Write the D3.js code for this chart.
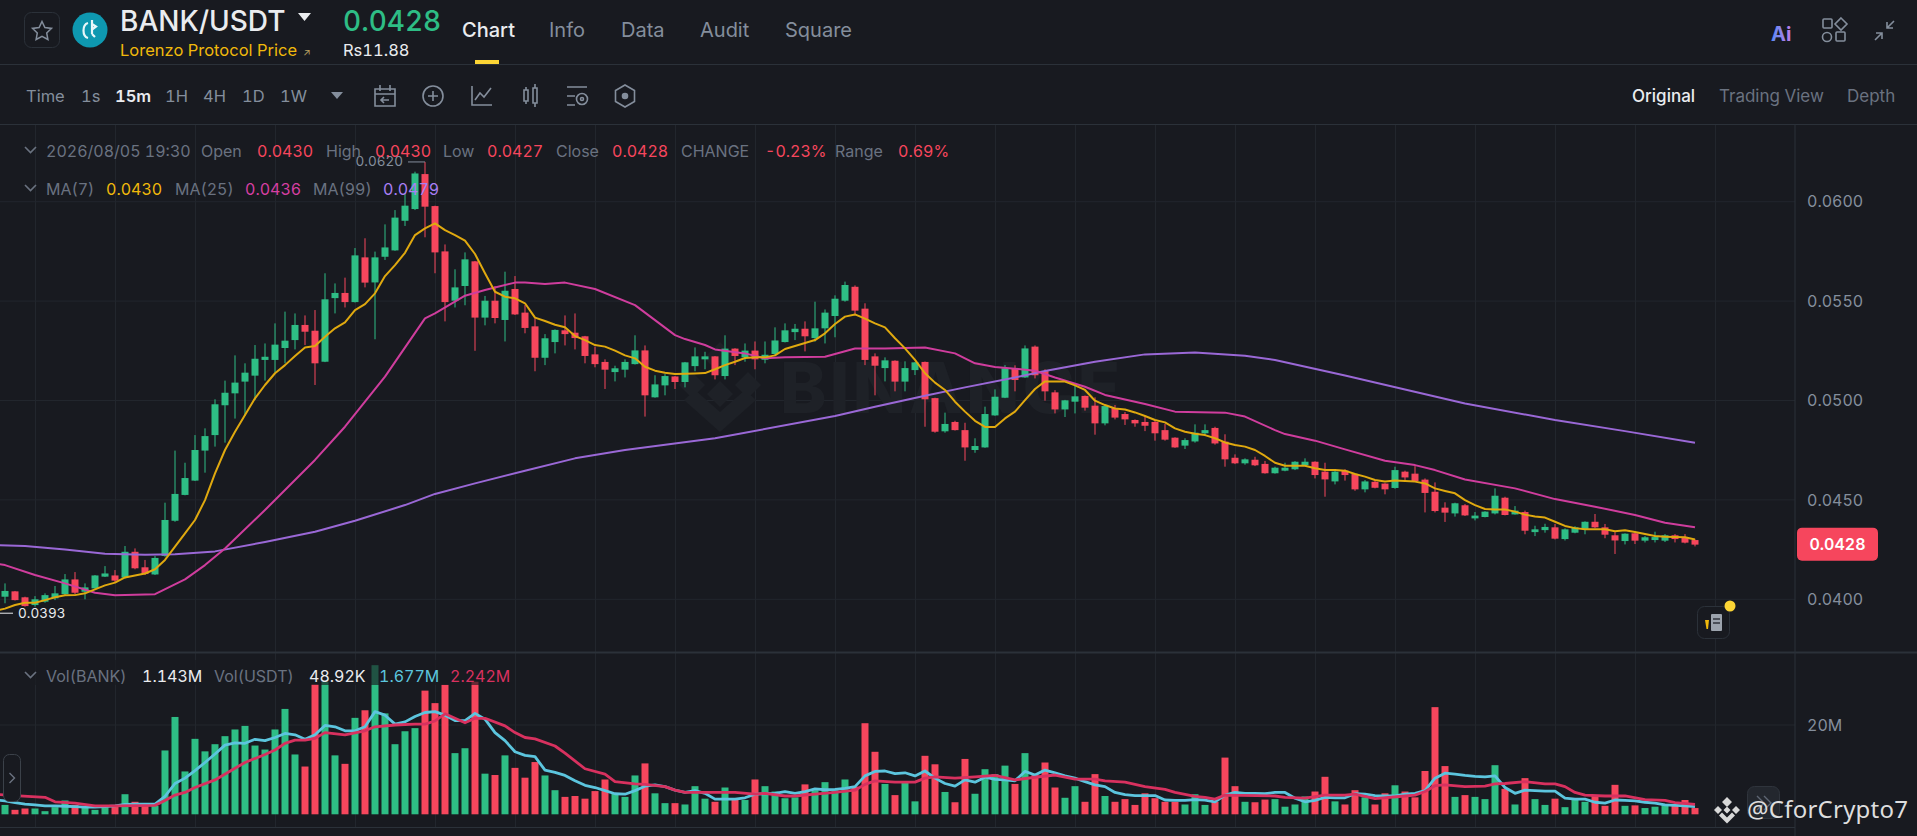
<!DOCTYPE html>
<html>
<head>
<meta charset="utf-8">
<title>BANK/USDT</title>
<script src="https://cdn.jsdelivr.net/npm/d3@7"></script>
<style>
  html, body { margin: 0; padding: 0; background: #181a20; overflow: hidden; }
  text { font-family: Inter, "Noto Sans", sans-serif; font-variant-numeric: tabular-nums; }
</style>
</head>
<body>
<div id="chart"></div>
<script>
// prices are in 1/100000 USDT, volumes in millions
const opens = [4013,4040,4010,3971,3988,4005,4026,4100,4038,4055,
4114,4120,4109,4239,4161,4125,4218,4395,4525,4597,
4748,4826,4976,5036,5095,5125,5204,5204,5264,5304,
5380,5351,5195,5515,5541,5495,5720,5594,5723,5755,
5904,5963,6139,5978,5750,5502,5576,5700,5417,5502,
5405,5561,5442,5373,5215,5294,5353,5341,5323,5232,
5194,5143,5155,5183,5252,5016,5076,5121,5093,5173,
5207,5222,5123,5261,5217,5251,5205,5234,5294,5344,
5361,5314,5363,5425,5502,5572,5462,5222,5163,5200,
5095,5153,5194,5012,4845,4892,4851,4751,4764,4925,
5014,5160,5116,5271,5148,5041,4955,4994,5023,4974,
4885,4962,4932,4902,4892,4892,4851,4813,4773,4794,
4835,4862,4793,4712,4684,4702,4681,4634,4647,4654,
4675,4692,4642,4593,4647,4630,4553,4591,4582,4560,
4642,4632,4602,4541,4461,4432,4473,4407,4414,4432,
4511,4427,4439,4338,4348,4362,4303,4335,4353,4390,
4362,4322,4293,4332,4295,4298,4295,4322,4312,4298];
const closes = [4042,3996,3966,4000,4021,4030,4100,4033,4060,4120,
4130,4094,4239,4156,4127,4208,4399,4530,4610,4751,
4821,4981,5039,5090,5140,5210,5220,5281,5301,5380,
5346,5187,5509,5541,5495,5730,5593,5720,5770,5920,
5980,6142,5975,5745,5495,5569,5710,5417,5502,5415,
5552,5433,5365,5215,5313,5355,5334,5314,5224,5183,
5155,5162,5194,5252,5026,5081,5123,5093,5192,5222,
5222,5127,5261,5224,5251,5207,5230,5302,5353,5361,
5323,5363,5442,5512,5581,5452,5204,5175,5202,5095,
5163,5192,5006,4843,4882,4851,4764,4771,4932,5019,
5162,5103,5262,5127,5046,4955,5001,5021,4964,4885,
4972,4914,4905,4885,4873,4835,4803,4764,4801,4838,
4851,4784,4704,4684,4704,4674,4634,4662,4662,4692,
4692,4625,4603,4642,4625,4553,4593,4561,4553,4650,
4613,4595,4535,4444,4436,4483,4422,4421,4441,4521,
4424,4446,4345,4352,4364,4305,4352,4362,4390,4362,
4325,4296,4330,4295,4312,4313,4322,4303,4285,4275];
const highs = [4080,4042,4013,4016,4030,4067,4127,4137,4080,4122,
4167,4147,4268,4256,4198,4218,4486,4748,4687,4826,
4860,5006,5100,5227,5187,5279,5287,5388,5447,5438,
5428,5455,5640,5589,5618,5767,5816,5749,5886,5958,
6042,6151,6200,5980,5785,5660,5745,5702,5526,5576,
5648,5626,5480,5413,5334,5358,5428,5438,5325,5271,
5207,5175,5207,5328,5277,5127,5133,5123,5194,5267,
5245,5224,5328,5263,5287,5297,5297,5368,5388,5385,
5398,5497,5458,5529,5598,5579,5489,5237,5217,5202,
5197,5194,5196,5014,4939,4898,4888,4810,4969,5056,
5178,5177,5277,5277,5157,5052,5003,5073,5025,5016,
4974,4977,4942,4905,4919,4902,4882,4815,4810,4880,
4880,4868,4830,4729,4709,4717,4696,4667,4687,4695,
4709,4694,4687,4650,4654,4634,4600,4595,4584,4667,
4647,4670,4608,4588,4488,4486,4479,4439,4443,4558,
4516,4469,4446,4370,4380,4379,4357,4368,4392,4429,
4379,4338,4332,4334,4318,4340,4328,4328,4328,4302];
const lows = [3980,3994,3963,3963,3983,3996,4021,4026,4000,4053,
4112,4087,4105,4151,4122,4122,4214,4390,4523,4595,
4637,4768,4788,4909,4922,5002,5100,5140,5187,5257,
5279,5078,5193,5438,5468,5493,5569,5308,5707,5753,
5878,5958,5821,5640,5398,5468,5479,5250,5378,5388,
5297,5430,5338,5147,5178,5237,5277,5257,5187,5167,
5058,5096,5116,5181,4919,5014,5026,5058,5066,5147,
5157,5106,5106,5178,5195,5157,5187,5224,5292,5304,
5247,5296,5287,5318,5497,5432,5178,5026,5096,5046,
5046,5128,4868,4838,4838,4849,4697,4737,4762,4923,
5012,5046,5114,5111,4999,4935,4917,4935,4949,4828,
4875,4905,4877,4868,4846,4798,4798,4762,4756,4788,
4821,4778,4667,4680,4677,4670,4632,4632,4644,4650,
4672,4608,4516,4578,4597,4546,4538,4558,4528,4556,
4590,4593,4437,4437,4389,4416,4419,4397,4412,4427,
4422,4426,4327,4318,4335,4301,4296,4332,4327,4357,
4307,4228,4276,4278,4286,4286,4288,4286,4281,4266];
// MA7 and the fast volume line start one slot left of the first candle
const ma7 = [3941,3953,3971,3983,3983,3996,4010,4020,4021,4030,4050,
4070,4084,4110,4120,4130,4151,4198,4265,4332,4399,
4499,4633,4751,4843,4927,5011,5078,5137,5178,5224,
5267,5274,5321,5363,5393,5455,5485,5539,5626,5681,
5743,5832,5866,5891,5857,5832,5804,5737,5640,5547,
5522,5514,5489,5417,5400,5381,5368,5324,5304,5279,
5271,5251,5227,5212,5170,5150,5140,5133,5135,5136,
5138,5157,5178,5195,5214,5217,5217,5227,5259,5274,
5289,5304,5338,5385,5422,5433,5412,5388,5368,5313,
5262,5204,5137,5090,5053,4994,4944,4898,4867,4867,
4910,4944,5002,5058,5096,5096,5095,5076,5053,4999,
4977,4960,4955,4940,4922,4902,4890,4860,4843,4833,
4826,4810,4789,4776,4768,4751,4721,4687,4672,4672,
4672,4659,4650,4650,4647,4630,4617,4600,4593,4597,
4595,4592,4583,4558,4545,4533,4499,4474,4454,4452,
4452,4441,4426,4416,4411,4390,4369,4358,4352,4352,
4352,4342,4347,4338,4328,4318,4315,4313,4312,4301];
const ma25Index = [-1,0,3,6,9,11,15,18,20,22,26,31,34,38,42,43,46,48,51,52,54,56,59,63,67,68,70,71,74,76,78,82,85,88,92,95,97,99,101,103,105,108,110,114,117,122,124,127,128,131,134,138,141,143,146,151,155,159,163,166,169];
const ma25 = [4181,4172,4122,4080,4033,4020,4026,4100,4172,4256,4449,4701,4868,5120,5413,5438,5527,5556,5593,5593,5586,5593,5561,5480,5329,5309,5279,5257,5237,5212,5217,5220,5262,5262,5267,5237,5187,5168,5160,5150,5116,5069,5028,4982,4944,4939,4919,4851,4831,4798,4754,4697,4675,4650,4603,4558,4504,4466,4424,4385,4362];
const ma99Index = [-1,2,6,10,14,17,21,26,31,35,40,43,47,52,57,62,71,83,87,92,96,101,104,109,114,119,124,127,134,146,155,162,169];
const ma99 = [4273,4268,4251,4229,4224,4226,4241,4288,4340,4395,4474,4530,4583,4647,4709,4751,4810,4922,4969,5024,5066,5116,5148,5195,5232,5241,5225,5204,5126,4985,4902,4846,4788];
const volumes = [2.1,1.0,1.3,1.3,0.7,1.6,3.1,2.1,1.7,1.0,
1.6,1.7,4.5,2.8,2.3,1.9,14.3,21.8,9.6,16.9,
14.1,15.7,17.5,19.0,19.8,15.4,14.5,19.0,23.6,13.4,
10.7,29.1,29.7,13.2,11.3,21.6,23.3,33.4,22.6,15.7,
18.6,19.3,27.7,24.9,29.0,13.7,14.8,29.7,9.1,8.8,
13.2,10.4,8.2,11.7,8.7,5.4,3.9,4.1,3.5,5.2,
7.8,4.7,3.9,8.7,11.4,4.7,2.5,2.5,2.2,6.3,
3.5,2.8,6.0,3.5,3.2,7.8,6.3,5.1,3.6,3.8,
6.7,5.4,7.2,5.4,7.8,6.2,20.4,14.0,6.8,4.3,
7.3,2.9,13.1,11.2,5.0,2.7,12.4,4.6,10.1,9.0,
10.9,6.8,13.7,8.8,11.6,6.0,3.7,6.3,2.8,9.0,
4.1,2.8,3.4,2.1,4.7,3.6,2.8,2.8,2.2,4.5,
2.1,2.8,12.7,6.3,2.8,2.7,3.3,3.4,1.7,2.2,
4.0,5.1,8.4,2.9,2.2,5.4,3.8,2.2,4.7,6.5,
5.1,3.8,9.7,24.0,10.8,3.9,4.3,3.9,3.4,11.0,
5.7,2.2,8.1,3.4,2.1,3.5,1.6,3.4,2.8,4.1,
1.9,6.6,1.9,2.0,1.4,1.7,2.1,2.2,3.2,1.4];
const volFast = [3.2,3.0,2.6,2.3,2.1,1.9,1.9,1.8,1.7,1.6,1.6,
1.7,1.9,2.2,2.3,2.3,2.3,4.0,6.9,8.1,9.8,
11.6,13.5,15.5,16.0,15.9,16.8,16.5,17.2,18.1,17.8,
16.8,17.8,19.9,19.6,18.7,18.7,19.6,23.0,22.2,20.2,
20.7,21.9,22.8,23.0,22.2,21.0,21.0,22.6,21.3,18.3,
16.5,14.0,13.2,12.9,9.9,9.4,8.7,7.5,6.5,6.0,
5.3,4.6,4.5,5.3,6.3,6.6,6.2,5.4,4.9,5.3,
4.7,3.4,3.4,3.4,3.7,4.5,4.6,4.7,5.1,4.7,
5.1,5.7,5.5,5.6,5.8,6.2,8.6,9.6,9.7,9.1,
9.3,8.6,9.7,8.1,6.9,6.3,7.7,7.2,8.3,7.8,
7.7,7.5,9.6,8.8,9.9,9.3,8.6,8.1,7.3,6.6,
6.2,4.9,4.4,4.2,4.2,4.2,3.2,3.1,3.1,3.3,
3.2,2.8,4.3,4.9,4.7,4.7,4.6,4.9,4.9,3.6,
2.8,3.1,3.8,3.7,3.7,4.6,4.5,4.2,4.1,4.1,
4.5,4.7,5.3,8.1,9.2,9.0,8.7,8.5,8.4,8.6,
6.0,4.7,5.4,5.3,5.2,5.2,3.6,3.4,3.4,2.7,
2.5,3.2,3.1,3.0,2.7,2.5,2.1,2.0,1.9,1.7];
const volSlowIndex = [-1,1,4,5,7,9,11,15,16,17,18,19,21,23,24,26,27,28,29,30,31,32,34,36,37,39,41,42,43,44,46,47,48,50,51,52,53,55,56,58,60,61,63,64,66,67,68,71,73,75,76,78,79,81,83,85,86,87,89,91,92,93,95,97,99,101,103,105,107,109,110,112,114,116,117,119,120,121,122,127,128,130,132,134,135,137,140,141,142,143,144,146,148,149,150,152,154,155,156,157,158,160,162,164,166,167,169];
const volSlow = [4.5,4.2,3.8,2.8,2.5,1.9,1.9,2.0,3.1,4.3,4.9,6.0,7.7,10.3,11.6,13.4,14.4,15.9,16.6,16.6,17.0,18.3,17.8,18.7,19.6,20.0,20.2,20.2,20.9,22.5,20.5,21.5,21.5,19.8,18.3,17.2,16.9,15.3,13.7,10.2,9.0,7.3,6.8,6.7,6.2,5.4,4.9,4.9,4.9,4.5,4.7,4.1,4.1,4.5,4.9,5.4,6.7,7.5,7.2,7.2,8.1,8.4,8.1,8.4,8.7,7.7,8.3,8.8,7.9,7.9,7.5,7.2,6.2,5.6,4.9,4.0,3.8,3.4,4.3,4.1,3.8,3.6,4.3,4.3,4.5,3.5,4.1,4.3,5.1,6.4,6.6,6.2,6.3,6.8,6.9,7.3,6.8,6.8,6.2,4.9,4.3,4.1,4.1,3.3,3.1,2.6,2.2];
const priceTicks = [6000,5500,5000,4500,4000];
const volTicks = [20];
const gridIndex = d3.range(3, 172, 8);

const BG = "#181a20", GRID = "#22262d", LINE = "#2b3139", MUTED = "#848e9c", DIM = "#6a7280";
const GREEN = "#2ebd85", RED = "#f6465d", WHITE = "#eaecef";

const svg = d3.select("#chart").append("svg")
  .attr("width", 1917).attr("height", 836)
  .style("display", "block");

svg.append("rect").attr("width", 1917).attr("height", 836).attr("fill", BG);

// scales
const x = d3.scaleLinear().domain([0, 169]).range([5, 1695]);
const yPrice = d3.scaleLinear().domain([4000, 6000]).range([599.3, 201.7]);
const yVol = d3.scaleLinear().domain([0, 20]).range([814.3, 725]);

function label(g, px, py, str, color, size, weight, anchor) {
  return g.append("text").attr("x", px).attr("y", py)
    .attr("dy", "0.36em")
    .attr("fill", color)
    .attr("font-size", size || 16)
    .attr("font-weight", weight || 400)
    .attr("text-anchor", anchor || "start")
    .text(str);
}

// grid
const gridG = svg.append("g");
gridG.selectAll("line.v").data(gridIndex).enter().append("line")
  .attr("x1", d => x(d) + 0.5).attr("x2", d => x(d) + 0.5)
  .attr("y1", 125).attr("y2", 827)
  .attr("stroke", GRID);
gridG.selectAll("line.h").data(priceTicks).enter().append("line")
  .attr("x1", 0).attr("x2", 1795)
  .attr("y1", d => yPrice(d)).attr("y2", d => yPrice(d))
  .attr("stroke", GRID);
gridG.selectAll("line.hv").data(volTicks).enter().append("line")
  .attr("x1", 0).attr("x2", 1795)
  .attr("y1", d => yVol(d)).attr("y2", d => yVol(d))
  .attr("stroke", GRID);

// watermark
const wm = svg.append("g").attr("fill", "#1e2127");
wm.append("path").attr("d", "M720 342 l16 16 -16 16 -16 -16z M692 372 l13 13 -13 13 -13 -13z M748 372 l13 13 -13 13 -13 -13z M720 381 l13 13 -13 13 -13 -13z M720 432 l-36 -32 11 -10 25 22 25 -22 11 10z");
wm.append("text").attr("x", 780).attr("y", 413).attr("font-size", 70)
  .attr("font-weight", 800).attr("letter-spacing", 3).text("BINANCE");

// candles
const candleG = svg.append("g");
const idx = d3.range(opens.length);
const colorOf = i => closes[i] >= opens[i] ? GREEN : RED;
candleG.selectAll("line").data(idx).enter().append("line")
  .attr("x1", i => x(i)).attr("x2", i => x(i))
  .attr("y1", i => yPrice(highs[i])).attr("y2", i => yPrice(lows[i]))
  .attr("stroke", colorOf).attr("stroke-width", 1);
candleG.selectAll("rect").data(idx).enter().append("rect")
  .attr("x", i => x(i) - 3.5).attr("width", 7)
  .attr("y", i => yPrice(Math.max(opens[i], closes[i])))
  .attr("height", i => Math.max(1, Math.abs(yPrice(opens[i]) - yPrice(closes[i]))))
  .attr("fill", colorOf);

// moving averages
const lineP = d3.line().x(d => x(d[0])).y(d => yPrice(d[1]));
function priceLine(index, values, color) {
  svg.append("path").datum(index.map((k, i) => [k, values[i]]))
    .attr("fill", "none").attr("stroke", color).attr("stroke-width", 2)
    .attr("stroke-linejoin", "round")
    .attr("d", lineP);
}
priceLine(ma99Index, ma99, "#9a68d6");
priceLine(ma25Index, ma25, "#cf3d9d");
priceLine(d3.range(-1, 170), ma7, "#e0a90f");

// high / low marks
const hiX = x(42), hiY = yPrice(6200);
svg.append("line").attr("x1", hiX - 17).attr("x2", hiX).attr("y1", hiY).attr("y2", hiY).attr("stroke", MUTED);
label(svg, hiX - 22, hiY - 1, "0.0620", MUTED, 13.5, 400, "end");
const loY = yPrice(3930);
svg.append("line").attr("x1", 0).attr("x2", 13).attr("y1", loY).attr("y2", loY).attr("stroke", WHITE);
label(svg, 18, loY, "0.0393", WHITE, 13.5);

// volume
const volG = svg.append("g");
volG.selectAll("rect").data(idx).enter().append("rect")
  .attr("x", i => x(i) - 3.5).attr("width", 7)
  .attr("y", i => yVol(volumes[i]))
  .attr("height", i => yVol(0) - yVol(volumes[i]))
  .attr("fill", colorOf);
const lineV = d3.line().x(d => x(d[0])).y(d => yVol(d[1]));
svg.append("path").datum(d3.range(-1, 170).map((k, i) => [k, volFast[i]]))
  .attr("fill", "none").attr("stroke", "#5cc5de").attr("stroke-width", 2.8).attr("stroke-linejoin", "round").attr("d", lineV);
svg.append("path").datum(volSlowIndex.map((k, i) => [k, volSlow[i]]))
  .attr("fill", "none").attr("stroke", "#d8315f").attr("stroke-width", 2.8).attr("stroke-linejoin", "round").attr("d", lineV);

// volume legend sits over the bars with a translucent backing
svg.append("rect").attr("x", 24).attr("y", 660).attr("width", 490).attr("height", 25)
  .attr("fill", BG).attr("opacity", 0.65);

// panel frame
const frame = [[0, 1917, 64, 64], [0, 1917, 124, 124], [0, 1917, 652, 652], [0, 1795, 827, 827], [1795, 1795, 124, 836]];
svg.selectAll("line.frame").data(frame).enter().append("line")
  .attr("x1", d => d[0]).attr("x2", d => d[1]).attr("y1", d => d[2] + 0.5).attr("y2", d => d[3] + 0.5)
  .attr("stroke", LINE).attr("stroke-width", d => d[2] == 652 ? 2 : 1);

// axes
const priceAxis = d3.axisRight(yPrice).tickValues(priceTicks).tickSize(0).tickPadding(12)
  .tickFormat(d => (d / 100000).toFixed(4));
const volAxis = d3.axisRight(yVol).tickValues(volTicks).tickSize(0).tickPadding(12)
  .tickFormat(d => d + "M");
[svg.append("g").call(priceAxis), svg.append("g").call(volAxis)].forEach(g => {
  g.attr("transform", "translate(1795,0)");
  g.select(".domain").remove();
  g.selectAll("text").attr("fill", MUTED).attr("font-size", 16).attr("font-family", "Inter, sans-serif");
});

// last price tag
const lastY = yPrice(4280);
svg.append("rect").attr("x", 1797).attr("y", lastY - 16).attr("width", 81).attr("height", 33).attr("rx", 5).attr("fill", RED);
label(svg, 1837.5, lastY + 0.5, "0.0428", "#fff", 16, 600, "middle");

// header
const head = svg.append("g");
head.append("rect").attr("x", 24.5).attr("y", 12.5).attr("width", 35).attr("height", 35).attr("rx", 7)
  .attr("fill", "none").attr("stroke", LINE);
head.append("path")
  .attr("d", "M42 21.5 l2.9 6 6.6 .9 -4.8 4.6 1.2 6.5 -5.9 -3.2 -5.9 3.2 1.2 -6.5 -4.8 -4.6 6.6 -.9z")
  .attr("fill", "none").attr("stroke", MUTED).attr("stroke-width", 1.5);
head.append("circle").attr("cx", 90).attr("cy", 30).attr("r", 17.5).attr("fill", "#0e98b0");
head.append("path").attr("d", "M88 23 c-3.5 1 -4.5 4 -4.5 7.5 s1 6.5 4.5 7.5 M92 20 v14 M92 24 l4 2.5 -4 3 M92 34 l3 3")
  .attr("fill", "none").attr("stroke", "#e8f7f9").attr("stroke-width", 2.2);
label(head, 120, 21, "BANK/USDT", WHITE, 28, 500);
head.append("path").attr("d", "M298 13 h13 l-6.5 8z").attr("fill", WHITE);
label(head, 343, 21, "0.0428", GREEN, 28, 500);
label(head, 120, 50, "Lorenzo Protocol Price", "#f0b90b", 16.5);
label(head, 303, 52, "↗", "#b8a060", 10);
label(head, 343, 50, "Rs11.88", WHITE, 16.5);
label(head, 462, 30, "Chart", WHITE, 20, 500);
label(head, 549, 30, "Info", MUTED, 20);
label(head, 621, 30, "Data", MUTED, 20);
label(head, 700, 30, "Audit", MUTED, 20);
label(head, 785, 30, "Square", MUTED, 20);
head.append("rect").attr("x", 475).attr("y", 60).attr("width", 24).attr("height", 4).attr("fill", "#fcd535");

const aiGrad = svg.append("defs").append("linearGradient").attr("id", "ai");
aiGrad.append("stop").attr("offset", "0").attr("stop-color", "#5a8cf5");
aiGrad.append("stop").attr("offset", "1").attr("stop-color", "#c07ce8");
label(head, 1771, 34, "Ai", "url(#ai)", 20, 700);
const ic = head.append("g").attr("fill", "none").attr("stroke", MUTED).attr("stroke-width", 1.6);
ic.append("rect").attr("x", 1823).attr("y", 19).attr("width", 9).attr("height", 9).attr("rx", 1);
ic.append("path").attr("d", "M1841 18 l6 6 -6 6 -6 -6z");
ic.append("circle").attr("cx", 1827).attr("cy", 37).attr("r", 4.5);
ic.append("rect").attr("x", 1836).attr("y", 32).attr("width", 9).attr("height", 9).attr("rx", 1);
ic.append("path").attr("d", "M1894 21 l-7 7 M1887 22 v6 h6 M1882 33 l-7 7 M1876 33 h6 v6");

// toolbar
const tb = svg.append("g");
label(tb, 26, 96, "Time", MUTED, 16.5);
label(tb, 81, 96, "1s", MUTED, 16.5);
label(tb, 115, 96, "15m", WHITE, 16.5, 600);
label(tb, 165, 96, "1H", MUTED, 16.5);
label(tb, 203, 96, "4H", MUTED, 16.5);
label(tb, 242, 96, "1D", MUTED, 16.5);
label(tb, 280, 96, "1W", MUTED, 16.5);
tb.append("path").attr("d", "M331 92 h12 l-6 7z").attr("fill", MUTED);
const ti = tb.append("g").attr("fill", "none").attr("stroke", MUTED).attr("stroke-width", 1.6);
ti.append("path").attr("d", "M375 89 h20 v17 h-20z M375 94 h20 M380 85 v6 M390 85 v6 M389 100 h-8 M384 97 l-3 3 3 3");
ti.append("circle").attr("cx", 433).attr("cy", 96).attr("r", 10);
ti.append("path").attr("d", "M433 91 v10 M428 96 h10");
ti.append("path").attr("d", "M472 86 v19 h20 M475 100 l5 -7 4 4 7 -9");
ti.append("path").attr("d", "M524 90 h4 v11 h-4z M533 88 h4 v15 h-4z M526 87 v3 M526 101 v3 M535 84 v4 M535 103 v4");
ti.append("path").attr("d", "M567 87 h20 M567 96 h8 M567 105 h8");
ti.append("circle").attr("cx", 582).attr("cy", 99).attr("r", 5.5);
ti.append("circle").attr("cx", 582).attr("cy", 99).attr("r", 1.5);
ti.append("path").attr("d", "M625 85 l9.5 5.5 v11 l-9.5 5.5 -9.5 -5.5 v-11z");
ti.append("circle").attr("cx", 625).attr("cy", 96).attr("r", 2.5).attr("fill", MUTED);
label(tb, 1632, 96, "Original", WHITE, 17, 500);
label(tb, 1719, 96, "Trading View", DIM, 17);
label(tb, 1847, 96, "Depth", DIM, 17);

// legends
const chevron = py => svg.append("path").attr("d", `M25 ${py - 3} l5.5 5.5 5.5 -5.5`)
  .attr("fill", "none").attr("stroke", DIM).attr("stroke-width", 1.6);
const leg = svg.append("g");
chevron(150);
label(leg, 46, 151, "2026/08/05 19:30", DIM, 16);
label(leg, 201, 151, "Open", DIM, 16);
label(leg, 257, 151, "0.0430", RED, 16);
label(leg, 326, 151, "High", DIM, 16);
label(leg, 375, 151, "0.0430", RED, 16);
label(leg, 443, 151, "Low", DIM, 16);
label(leg, 487, 151, "0.0427", RED, 16);
label(leg, 556, 151, "Close", DIM, 16);
label(leg, 612, 151, "0.0428", RED, 16);
label(leg, 681, 151, "CHANGE", DIM, 16);
label(leg, 765, 151, "-0.23%", RED, 16);
label(leg, 835, 151, "Range", DIM, 16);
label(leg, 898, 151, "0.69%", RED, 16);
chevron(188);
label(leg, 46, 189, "MA(7)", DIM, 16);
label(leg, 106, 189, "0.0430", "#f0b90b", 16);
label(leg, 175, 189, "MA(25)", DIM, 16);
label(leg, 245, 189, "0.0436", "#d63fa2", 16);
label(leg, 313, 189, "MA(99)", DIM, 16);
label(leg, 383, 189, "0.0479", "#a97ff5", 16);
chevron(675);
label(leg, 46, 676, "Vol(BANK)", DIM, 16);
label(leg, 142, 676, "1.143M", WHITE, 16);
label(leg, 214, 676, "Vol(USDT)", DIM, 16);
label(leg, 309, 676, "48.92K", WHITE, 16);
label(leg, 379, 676, "1.677M", "#5cc5de", 16);
label(leg, 450, 676, "2.242M", "#d8315f", 16);

// side handle
svg.append("rect").attr("x", 3.5).attr("y", 754.5).attr("width", 17).attr("height", 47).attr("rx", 6)
  .attr("fill", BG).attr("stroke", "#3b4149");
svg.append("path").attr("d", "M9.5 773 l5 5 -5 5").attr("fill", "none").attr("stroke", DIM).attr("stroke-width", 1.4);

// news button
svg.append("rect").attr("x", 1697.5).attr("y", 606.5).attr("width", 32).attr("height", 32).attr("rx", 7)
  .attr("fill", BG).attr("stroke", LINE);
svg.append("rect").attr("x", 1711).attr("y", 614).attr("width", 11).attr("height", 17).attr("rx", 1).attr("fill", "#9ca3ad");
svg.append("path").attr("d", "M1713 619 h7 M1713 623 h7").attr("stroke", "#30353d").attr("stroke-width", 1.5);
svg.append("path").attr("d", "M1705 620 h4 l-1 9 h-1.5z").attr("fill", "#f0b90b");
svg.append("circle").attr("cx", 1730).attr("cy", 606).attr("r", 5.5).attr("fill", "#fcd535");

// scroll button and credit
svg.append("rect").attr("x", 1747.5).attr("y", 786.5).attr("width", 32).attr("height", 32).attr("rx", 7)
  .attr("fill", "#23272e").attr("stroke", "#2f343c");
svg.append("path").attr("d", "M1757 796 l7 7 -7 7 M1764 796 l7 7 -7 7").attr("fill", "none").attr("stroke", "#5e6673").attr("stroke-width", 1.4);
svg.append("path")
  .attr("d", "M1727 797 l5 5 -5 5 -5 -5z M1718 806 l4 4 -4 4 -4 -4z M1736 806 l4 4 -4 4 -4 -4z M1727 806.5 l3.5 3.5 -3.5 3.5 -3.5 -3.5z M1719 815.5 l3 -3 5 5 5 -5 3 3 -8 8z")
  .attr("fill", "#d8d8d8");
label(svg, 1747, 809, "@CforCrypto7", "#dedede", 24)
  .attr("textLength", 161).attr("lengthAdjust", "spacing")
  .style("font-family", "'Noto Sans', sans-serif");
</script>
</body>
</html>
